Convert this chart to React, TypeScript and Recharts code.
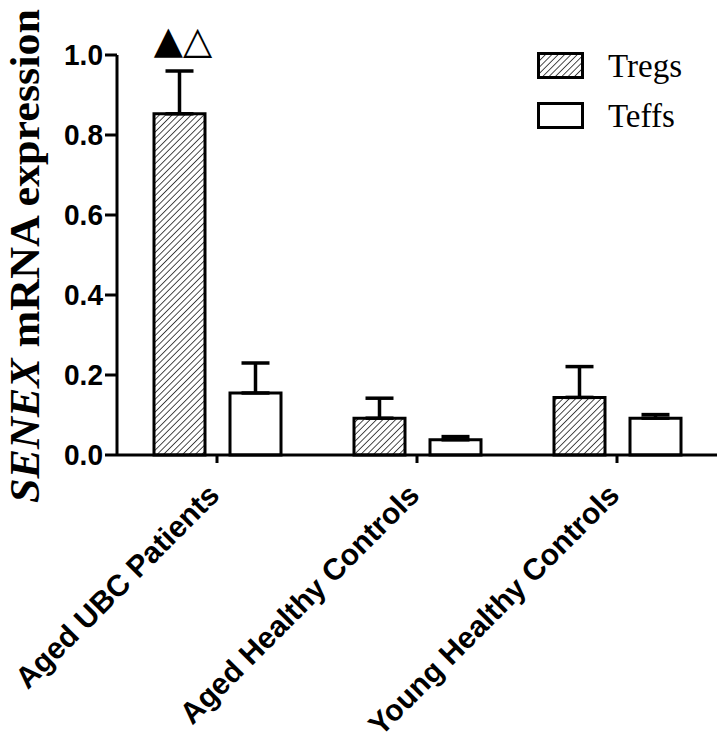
import React from 'react';
import { BarChart, Bar, XAxis, YAxis, ErrorBar, ReferenceDot } from 'recharts';

const categories = ['Aged UBC Patients', 'Aged Healthy Controls', 'Young Healthy Controls'];
const seriesNames = ['Tregs', 'Teffs'];
const tregsValues = [0.853, 0.092, 0.144];
const tregsErrors = [0.107, 0.05, 0.077];
const teffsValues = [0.155, 0.038, 0.092];
const teffsErrors = [0.075, 0.008, 0.009];
const yTicks = [0, 0.2, 0.4, 0.6, 0.8, 1.0];
const significanceMarks = '▲△';

const data = categories.map((name, i) => ({
  name,
  tregs: tregsValues[i],
  tregsErr: [0, tregsErrors[i]],
  teffs: teffsValues[i],
  teffsErr: [0, teffsErrors[i]],
}));

const XTick = (props: any) => {
  const { x, y, payload } = props;
  return (
    <text
      x={x + 4}
      y={y + 32}
      transform={`rotate(-45, ${x + 4}, ${y + 32})`}
      textAnchor="end"
      fontFamily="Liberation Sans, Arial, sans-serif"
      fontWeight="bold"
      fontSize={30}
      fill="#000"
    >
      {payload.value}
    </text>
  );
};

const YTick = (props: any) => {
  const { x, y, payload } = props;
  return (
    <text
      x={x}
      y={y + 10}
      textAnchor="end"
      fontFamily="Liberation Sans, Arial, sans-serif"
      fontWeight="bold"
      fontSize={30}
      fill="#000"
      textLength={39}
      lengthAdjust="spacingAndGlyphs"
    >
      {Number(payload.value).toFixed(1)}
    </text>
  );
};

const YLabel = () => (
  <text
    x={39}
    y={256}
    transform="rotate(-90, 39, 256)"
    textAnchor="middle"
    fontFamily="Liberation Serif, Times New Roman, serif"
    fontWeight="bold"
    fontSize={42}
    fill="#000"
    textLength={494}
    lengthAdjust="spacingAndGlyphs"
  >
    <tspan fontStyle="italic">SENEX</tspan>
    <tspan> mRNA expression</tspan>
  </text>
);

const LegendBox = () => (
  <svg width={170} height={95} style={{ position: 'absolute', left: 530, top: 44 }}>
    <defs>
      <pattern id="hatchL" width={4.5} height={4.5} patternUnits="userSpaceOnUse" patternTransform="rotate(45)">
        <line x1={0} y1={0} x2={0} y2={4.5} stroke="#000" strokeWidth={1.4} />
      </pattern>
    </defs>
    {seriesNames.map((n, i) => (
      <g key={n}>
        <rect x={8.5} y={9.5 + i * 50} width={44} height={24} fill={i === 0 ? 'url(#hatchL)' : '#fff'} stroke="#000" strokeWidth={3} />
        <text x={78} y={33 + i * 50} fontFamily="Liberation Serif, Times New Roman, serif" fontSize={33} fill="#000">
          {n}
        </text>
      </g>
    ))}
  </svg>
);

export default function App() {
  return (
    <div style={{ position: 'absolute', left: 0, top: 0, width: 727, height: 745, background: '#fff' }}>
      <BarChart
        width={727}
        height={745}
        data={data}
        margin={{ top: 55, right: 10, left: 0, bottom: 0 }}
        barSize={51}
        barGap={25}
      >
        <defs>
          <pattern id="hatch" width={4.5} height={4.5} patternUnits="userSpaceOnUse" patternTransform="rotate(45)">
            <line x1={0} y1={0} x2={0} y2={4.5} stroke="#000" strokeWidth={1.4} />
          </pattern>
        </defs>
        <XAxis
          dataKey="name"
          height={290}
          axisLine={{ stroke: '#000', strokeWidth: 3 }}
          tickLine={{ stroke: '#000', strokeWidth: 3 }}
          tickSize={8}
          tick={<XTick />}
          interval={0}
        />
        <YAxis
          width={117}
          domain={[0, 1]}
          ticks={yTicks}
          axisLine={{ stroke: '#000', strokeWidth: 3 }}
          tickLine={{ stroke: '#000', strokeWidth: 3 }}
          tickSize={12}
          tick={<YTick />}
          label={{ content: () => <YLabel /> }}
        />
        <Bar dataKey="tregs" name={seriesNames[0]} fill="url(#hatch)" stroke="#000" strokeWidth={3} isAnimationActive={false}>
          <ErrorBar dataKey="tregsErr" width={14} stroke="#000" strokeWidth={3.5} isAnimationActive={false} />
        </Bar>
        <Bar dataKey="teffs" name={seriesNames[1]} fill="#fff" stroke="#000" strokeWidth={3} isAnimationActive={false}>
          <ErrorBar dataKey="teffsErr" width={14} stroke="#000" strokeWidth={3.5} isAnimationActive={false} />
        </Bar>
        <ReferenceDot
          x={categories[0]}
          y={1.0}
          ifOverflow="visible"
          shape={(p: any) => (
            <text
              x={p.cx - 34}
              y={p.cy - 2}
              textAnchor="middle"
              fontFamily="DejaVu Sans, sans-serif"
              fontSize={38}
              fill="#000"
            >
              {significanceMarks}
            </text>
          )}
        />
      </BarChart>
      <LegendBox />
    </div>
  );
}
